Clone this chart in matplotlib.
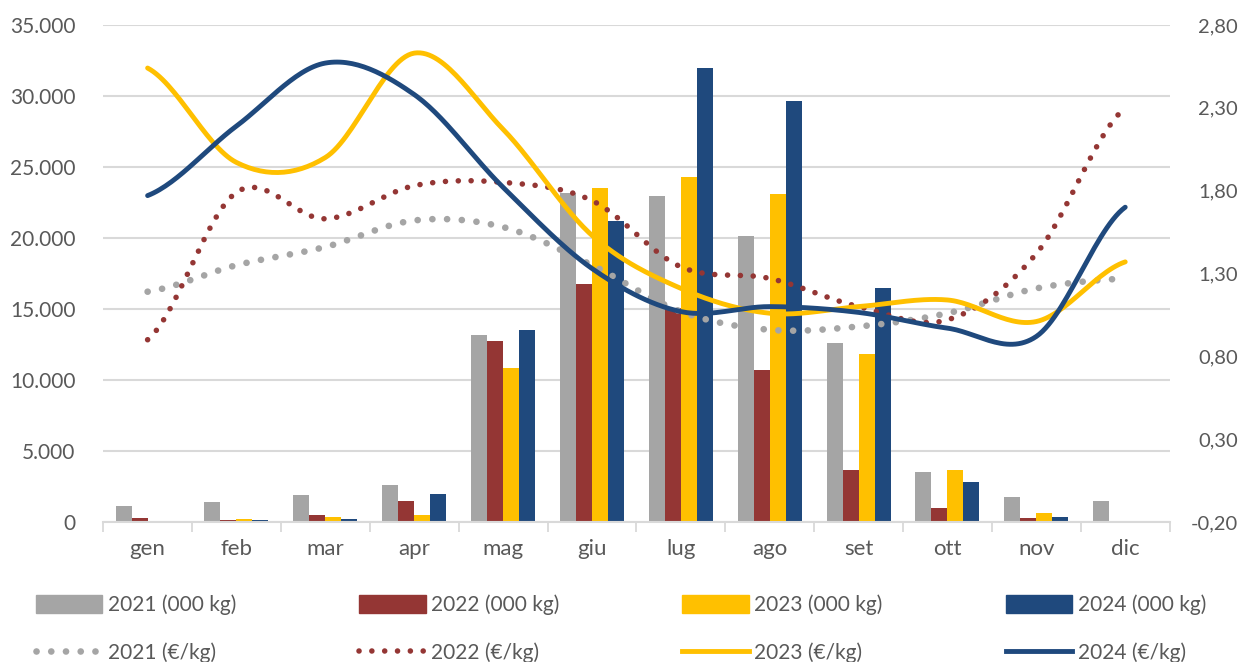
import numpy as np
import matplotlib
matplotlib.use("Agg")
import matplotlib.pyplot as plt
from matplotlib.patches import Patch
from matplotlib.lines import Line2D
from matplotlib.ticker import FuncFormatter, FixedLocator

# --- data ---
months = ["gen", "feb", "mar", "apr", "mag", "giu", "lug", "ago", "set", "ott", "nov", "dic"]

kg_2021 = [1100, 1400, 1900, 2600, 13200, 23200, 22950, 20150, 12600, 3500, 1750, 1500]
kg_2022 = [300, 120, 500, 1500, 12750, 16750, 15100, 10700, 3650, 1000, 250, 0]
kg_2023 = [0, 200, 350, 500, 10850, 23500, 24300, 23100, 11850, 3650, 600, 100]
kg_2024 = [0, 120, 200, 2000, 13500, 21200, 32000, 29650, 16500, 2800, 350, 50]

eur_2021 = [1.19, 1.35, 1.46, 1.62, 1.58, 1.35, 1.07, 0.96, 0.98, 1.06, 1.21, 1.27]
eur_2022 = [0.90, 1.79, 1.63, 1.83, 1.85, 1.74, 1.34, 1.27, 1.10, 1.02, 1.42, 2.30]
eur_2023 = [2.54, 1.97, 2.00, 2.63, 2.17, 1.53, 1.21, 1.06, 1.10, 1.14, 1.01, 1.37]
eur_2024 = [1.77, 2.19, 2.57, 2.38, 1.82, 1.33, 1.07, 1.10, 1.065, 0.97, 0.92, 1.70]

left_ticks = [0, 5000, 10000, 15000, 20000, 25000, 30000, 35000]
right_ticks = [-0.20, 0.30, 0.80, 1.30, 1.80, 2.30, 2.80]

GREY = "#A5A5A5"
RED = "#943634"
YELLOW = "#FFC000"
BLUE = "#1F497D"
TXT = "#595959"


def smooth(y, n=30):
    # Excel-style smoothed line (Catmull-Rom through the points)
    y = np.asarray(y, dtype=float)
    x = np.arange(len(y), dtype=float)
    p = np.concatenate([[y[0]], y, [y[-1]]])
    xs, ys = [], []
    for i in range(len(y) - 1):
        p0, p1, p2, p3 = p[i], p[i + 1], p[i + 2], p[i + 3]
        t = np.linspace(0, 1, n, endpoint=(i == len(y) - 2))
        m1 = (p2 - p0) / 2
        m2 = (p3 - p1) / 2
        h00 = 2 * t**3 - 3 * t**2 + 1
        h10 = t**3 - 2 * t**2 + t
        h01 = -2 * t**3 + 3 * t**2
        h11 = t**3 - t**2
        ys.append(h00 * p1 + h10 * m1 + h01 * p2 + h11 * m2)
        xs.append(x[i] + t)
    return np.concatenate(xs), np.concatenate(ys)


plt.rcParams['font.family'] = ['Lato', 'DejaVu Sans']
plt.rcParams['font.size'] = 15

fig = plt.figure(figsize=(12.43, 6.62), dpi=100)
ax = fig.add_axes([0.083, 0.2115, 0.858, 0.7508])
ax2 = ax.twinx()

x = np.arange(len(months))
w = 0.18
bar_sets = [(kg_2021, GREY), (kg_2022, RED), (kg_2023, YELLOW), (kg_2024, BLUE)]
for k, (vals, col) in enumerate(bar_sets):
    ax.bar(x + (k - 1.5) * w, vals, width=w, color=col, zorder=2)

ax.set_ylim(0, 35000)
ax.set_xlim(-0.5, len(months) - 0.5)
ax.yaxis.set_major_locator(FixedLocator(left_ticks))
ax.yaxis.set_major_formatter(FuncFormatter(lambda v, p: f"{int(v):,}".replace(",", ".")))
ax.grid(axis="y", color="#D9D9D9", linewidth=1.5, zorder=0)
ax.set_axisbelow(True)

ax.set_xticks(x)
ax.set_xticklabels(months)
ax.set_xticks(np.arange(-0.5, len(months)), minor=True)
ax.tick_params(axis="x", which="major", length=0, pad=12, labelsize=16, labelcolor=TXT)
ax.tick_params(axis="x", which="minor", length=7, width=1.3, color="#D9D9D9")
ax.tick_params(axis="y", length=0, pad=20, labelsize=15, labelcolor=TXT)

for s in ["top", "left", "right"]:
    ax.spines[s].set_visible(False)
    ax2.spines[s].set_visible(False)
ax.spines["bottom"].set_color("#D9D9D9")
ax.spines["bottom"].set_linewidth(1.5)
ax2.spines["bottom"].set_visible(False)

# price lines on the right axis
grey_dot = dict(color=GREY, lw=4.8, linestyle=(0, (0.01, 2.2)), dash_capstyle="round")
red_dot = dict(color=RED, lw=4.0, linestyle=(0, (0.01, 2.3)), dash_capstyle="round")
xs, ys = smooth(eur_2021)
ax2.plot(xs, ys, **grey_dot)
xs, ys = smooth(eur_2022)
ax2.plot(xs, ys, **red_dot)
xs, ys = smooth(eur_2023)
ax2.plot(xs, ys, color=YELLOW, lw=3.5, solid_capstyle="round")
xs, ys = smooth(eur_2024)
ax2.plot(xs, ys, color=BLUE, lw=3.5, solid_capstyle="round")

ax2.set_ylim(-0.2, 2.8)
ax2.yaxis.set_major_locator(FixedLocator(right_ticks))
ax2.yaxis.set_major_formatter(FuncFormatter(lambda v, p: f"{v:.2f}".replace(".", ",")))
ax2.tick_params(axis="y", length=0, pad=49, labelsize=14.5, labelcolor=TXT)
for lab in ax2.get_yticklabels():
    lab.set_horizontalalignment("right")

# legend: bars on the first row, lines on the second
handles = [
    Patch(color=GREY), Line2D([], [], **grey_dot),
    Patch(color=RED), Line2D([], [], **red_dot),
    Patch(color=YELLOW), Line2D([], [], color=YELLOW, lw=3.5),
    Patch(color=BLUE), Line2D([], [], color=BLUE, lw=3.5),
]
labels = [
    "2021 (000 kg)", "2021 (€/kg)",
    "2022 (000 kg)", "2022 (€/kg)",
    "2023 (000 kg)", "2023 (€/kg)",
    "2024 (000 kg)", "2024 (€/kg)",
]
fig.legend(handles, labels, ncol=4, loc="lower left", mode="expand",
           bbox_to_anchor=(0.022, -0.014, 0.955, 0.12), frameon=False,
           handlelength=3.2, handleheight=1.0, handletextpad=0.25,
           labelspacing=1.3, fontsize=15, labelcolor=TXT, borderaxespad=0)

fig.savefig("out.png", dpi=100)
